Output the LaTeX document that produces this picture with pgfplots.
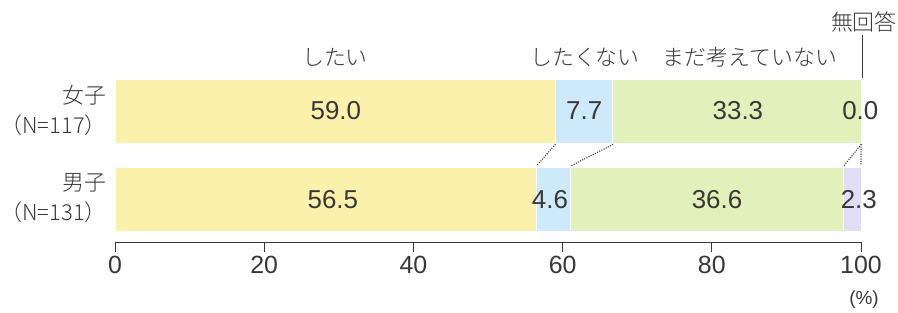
\documentclass[border=0pt]{standalone}
\usepackage{pgfplots}
\pgfplotsset{compat=1.18}
\usepackage{fontspec}
\setmainfont{Noto Sans CJK JP Light}
\newfontfamily\numfont{Liberation Sans}
\definecolor{cyel}{RGB}{252,241,172}
\definecolor{cblu}{RGB}{206,233,249}
\definecolor{cgrn}{RGB}{226,241,187}
\definecolor{cpur}{RGB}{224,221,245}
\definecolor{txt}{RGB}{55,55,55}
\begin{document}
\begin{tikzpicture}
\path[use as bounding box] (0,0) rectangle (898bp,313bp);
\begin{axis}[
  at={(115bp,71bp)}, anchor=south west,
  width=746bp, height=212.4bp, scale only axis,
  xmin=0, xmax=100, ymin=-0.48, ymax=1.92,
  xbar stacked, bar width=64bp,
  axis x line=bottom, axis y line=none,
  x axis line style={-, draw=txt, line width=0.8bp},
  xtick={0,20,40,60,80,100}, ytick=\empty,
  tick align=outside, major tick length=10bp,
  tick style={draw=txt, line width=0.8bp},
  /pgf/number format/assume math mode=true,
  xticklabel style={font=\numfont\fontsize{25}{25}\selectfont, text=txt, yshift=-1bp},
  clip=false,
]
\addplot[fill=cyel, draw=white, line width=1bp] coordinates {(56.5,0) (59.0,1)};
\addplot[fill=cblu, draw=white, line width=1bp] coordinates {(4.6,0) (7.7,1)};
\addplot[fill=cgrn, draw=white, line width=1bp] coordinates {(36.6,0) (33.3,1)};
\addplot[fill=cpur, draw=white, line width=1bp] coordinates {(2.3,0) (0.0,1)};
\coordinate (d1a) at (axis cs:59,0.62);   \coordinate (d1b) at (axis cs:56.5,0.38);
\coordinate (d2a) at (axis cs:66.7,0.62); \coordinate (d2b) at (axis cs:61.1,0.38);
\coordinate (d3a) at (axis cs:100,0.62);  \coordinate (d3b) at (axis cs:97.7,0.38);
\coordinate (d4b) at (axis cs:100,0.38);
\coordinate (v1) at (axis cs:29.6,1);
\coordinate (v2) at (axis cs:62.9,1);
\coordinate (v3) at (axis cs:83.5,1);
\coordinate (v4) at (axis cs:99.9,1);
\coordinate (v5) at (axis cs:29.2,0);
\coordinate (v6) at (axis cs:58.3,0);
\coordinate (v7) at (axis cs:80.7,0);
\coordinate (v8) at (axis cs:99.7,0);
\end{axis}
\tikzset{dl/.style={txt, line width=1.5bp, line cap=round, dash pattern=on 0bp off 2.4bp}}
\draw[dl] (d1a) -- (d1b);
\draw[dl] (d2a) -- (d2b);
\draw[dl] (d3a) -- (d3b);
\draw[dl] (d3a) -- (d4b);
\tikzset{valnode/.style={font=\numfont\fontsize{26}{26}\selectfont, text=txt}}
\node[valnode] at (v1) {59.0};
\node[valnode] at (v2) {7.7};
\node[valnode] at (v3) {33.3};
\node[valnode] at (v4) {0.0};
\node[valnode] at (v5) {56.5};
\node[valnode] at (v6) {4.6};
\node[valnode] at (v7) {36.6};
\node[valnode] at (v8) {2.3};
\tikzset{jl/.style={font=\fontsize{22}{22}\selectfont, text=txt, inner sep=0pt}}
\node[jl] at (335bp,256bp) {したい};
\node[jl] at (585bp,256bp) {したくない};
\node[jl] at (750bp,256bp) {まだ考えていない};
\node[jl, anchor=east] at (897bp,291bp) {無回答};
\draw[txt, line width=1bp] (862bp,278bp) -- (862bp,235bp);
\node[jl, anchor=east] at (107bp,218bp) {女子};
\node[jl, anchor=east] at (107bp,188bp) {（N=117）};
\node[jl, anchor=east] at (107bp,130bp) {男子};
\node[jl, anchor=east] at (107bp,101bp) {（N=131）};
\node[font=\numfont\fontsize{19}{19}\selectfont, text=txt, inner sep=0pt] at (864bp,13bp) {(\%)};
\end{tikzpicture}
\end{document}
